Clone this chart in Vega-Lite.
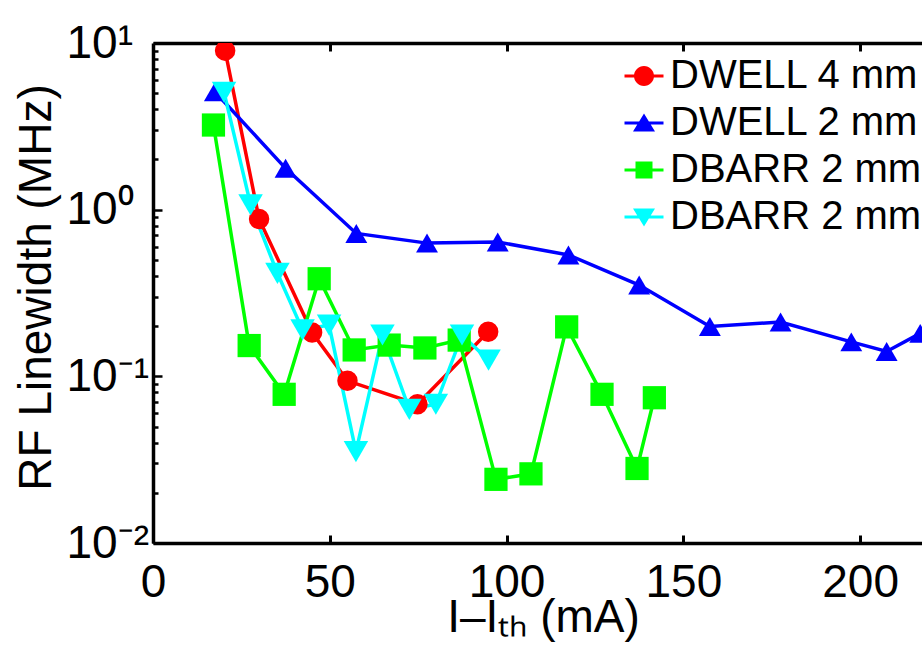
{
  "$schema": "https://vega.github.io/schema/vega-lite/v6.json",
  "width": 769,
  "height": 500,
  "autosize": {"type": "none"},
  "padding": {"left": 153, "top": 43, "right": 0, "bottom": 113},
  "background": "white",
  "config": {
    "view": {"stroke": null},
    "font": "Liberation Sans",
    "axis": {"grid": false, "domainColor": "black", "tickColor": "black", "labelColor": "black", "titleColor": "black", "labelFont": "Liberation Sans", "titleFont": "Liberation Sans", "titleFontWeight": "normal"}
  },
  "data": {
    "values": [
      {"series": "DWELL 4 mm", "x": 20.4, "y": 9.0},
      {"series": "DWELL 4 mm", "x": 30.0, "y": 0.88},
      {"series": "DWELL 4 mm", "x": 45.0, "y": 0.183},
      {"series": "DWELL 4 mm", "x": 55.0, "y": 0.094},
      {"series": "DWELL 4 mm", "x": 74.8, "y": 0.068},
      {"series": "DWELL 4 mm", "x": 94.8, "y": 0.185},
      {"series": "DWELL 2 mm", "x": 17.5, "y": 5.1},
      {"series": "DWELL 2 mm", "x": 37.5, "y": 1.77},
      {"series": "DWELL 2 mm", "x": 57.5, "y": 0.72},
      {"series": "DWELL 2 mm", "x": 77.5, "y": 0.63},
      {"series": "DWELL 2 mm", "x": 97.5, "y": 0.64},
      {"series": "DWELL 2 mm", "x": 117.5, "y": 0.535},
      {"series": "DWELL 2 mm", "x": 137.5, "y": 0.353},
      {"series": "DWELL 2 mm", "x": 157.5, "y": 0.199},
      {"series": "DWELL 2 mm", "x": 177.5, "y": 0.212},
      {"series": "DWELL 2 mm", "x": 197.5, "y": 0.161},
      {"series": "DWELL 2 mm", "x": 207.5, "y": 0.141},
      {"series": "DWELL 2 mm", "x": 217.0, "y": 0.181},
      {"series": "DBARR 2 mm", "x": 17.1, "y": 3.22},
      {"series": "DBARR 2 mm", "x": 27.2, "y": 0.153},
      {"series": "DBARR 2 mm", "x": 37.1, "y": 0.078},
      {"series": "DBARR 2 mm", "x": 47.0, "y": 0.385},
      {"series": "DBARR 2 mm", "x": 56.9, "y": 0.144},
      {"series": "DBARR 2 mm", "x": 66.8, "y": 0.154},
      {"series": "DBARR 2 mm", "x": 76.9, "y": 0.148},
      {"series": "DBARR 2 mm", "x": 86.6, "y": 0.165},
      {"series": "DBARR 2 mm", "x": 97.0, "y": 0.0241},
      {"series": "DBARR 2 mm", "x": 106.9, "y": 0.026},
      {"series": "DBARR 2 mm", "x": 117.0, "y": 0.198},
      {"series": "DBARR 2 mm", "x": 127.0, "y": 0.078},
      {"series": "DBARR 2 mm", "x": 136.9, "y": 0.028},
      {"series": "DBARR 2 mm", "x": 141.8, "y": 0.0744},
      {"series": "DBARR 2 mm ", "x": 20.1, "y": 5.06},
      {"series": "DBARR 2 mm ", "x": 27.6, "y": 1.07},
      {"series": "DBARR 2 mm ", "x": 35.2, "y": 0.415},
      {"series": "DBARR 2 mm ", "x": 42.3, "y": 0.19},
      {"series": "DBARR 2 mm ", "x": 49.8, "y": 0.203},
      {"series": "DBARR 2 mm ", "x": 57.4, "y": 0.0353},
      {"series": "DBARR 2 mm ", "x": 64.9, "y": 0.177},
      {"series": "DBARR 2 mm ", "x": 72.5, "y": 0.0634},
      {"series": "DBARR 2 mm ", "x": 80.0, "y": 0.068},
      {"series": "DBARR 2 mm ", "x": 87.4, "y": 0.177},
      {"series": "DBARR 2 mm ", "x": 94.9, "y": 0.125}
    ]
  },
  "layer": [
    {
      "mark": {"type": "line", "strokeWidth": 3.5, "clip": true},
      "encoding": {
        "x": {"field": "x", "type": "quantitative", "scale": {"domain": [0, 217.5], "nice": false, "zero": false},
          "axis": {"orient": "bottom", "values": [0, 50, 100, 150, 200], "tickSize": -8, "tickWidth": 3, "domainWidth": 3.5, "labelFontSize": 46, "labelPadding": 25, "labelFlush": false, "labelOverlap": false,
            "title": "I–Iₜₕ (mA)", "titleFontSize": 46, "titleX": 390, "titleY": 88, "titleBaseline": "alphabetic", "titleAnchor": "middle", "titleAlign": "center"}},
        "y": {"field": "y", "type": "quantitative", "scale": {"type": "log", "domain": [0.01, 10], "nice": false},
          "axis": {"orient": "left",
            "values": [0.01, 0.02, 0.03, 0.04, 0.05, 0.06, 0.07, 0.08, 0.09, 0.1, 0.2, 0.3, 0.4, 0.5, 0.6, 0.7, 0.8, 0.9, 1, 2, 3, 4, 5, 6, 7, 8, 9, 10],
            "tickSize": {"condition": {"test": "datum.value == 10 || datum.value == 1 || datum.value == 0.1 || datum.value == 0.01", "value": -9}, "value": -5},
            "tickWidth": 2.5, "domainWidth": 3.5,
            "labelExpr": "datum.value == 10 ? '10¹' : datum.value == 1 ? '10⁰' : datum.value == 0.1 ? '10⁻¹' : datum.value == 0.01 ? '10⁻²' : ''",
            "labelFontSize": 46, "labelAlign": "left", "labelBaseline": "middle", "labelPadding": 96, "labelFlush": false, "labelOverlap": false,
            "title": "RF Linewidth (MHz)", "titleFontSize": 46, "titleAngle": -90, "titleX": -103, "titleY": 244, "titleBaseline": "alphabetic", "titleAlign": "center"}},
        "color": {"field": "series", "type": "nominal", "scale": {"domain": ["DWELL 4 mm", "DWELL 2 mm", "DBARR 2 mm", "DBARR 2 mm "], "range": ["#ff0000", "#0000ff", "#00ff00", "#00ffff"]}, "legend": null}
      }
    },
    {
      "mark": {"type": "point", "filled": true, "opacity": 1, "clip": true},
      "encoding": {
        "x": {"field": "x", "type": "quantitative",
          "axis": {"orient": "top", "values": [50, 100, 150, 200], "labels": false, "tickSize": -8, "tickWidth": 3, "domainWidth": 3.5, "title": null}},
        "y": {"field": "y", "type": "quantitative", "axis": null},
        "color": {"field": "series", "type": "nominal", "scale": {"domain": ["DWELL 4 mm", "DWELL 2 mm", "DBARR 2 mm", "DBARR 2 mm "], "range": ["#ff0000", "#0000ff", "#00ff00", "#00ffff"]}, "legend": null},
        "shape": {"field": "series", "type": "nominal", "scale": {"domain": ["DWELL 4 mm", "DWELL 2 mm", "DBARR 2 mm", "DBARR 2 mm "], "range": ["circle", "triangle-up", "square", "triangle-down"]}, "legend": null},
        "size": {"field": "series", "type": "nominal", "scale": {"domain": ["DWELL 4 mm", "DWELL 2 mm", "DBARR 2 mm", "DBARR 2 mm "], "range": [420, 600, 290, 600]}, "legend": null}
      }
    },
    {
      "transform": [{"filter": "false"}],
      "mark": {"type": "point", "filled": true, "opacity": 1},
      "encoding": {
        "x": {"field": "x", "type": "quantitative", "axis": null},
        "y": {"field": "y", "type": "quantitative", "axis": null},
        "color": {"field": "series", "type": "nominal", "scale": {"domain": ["DWELL 4 mm", "DWELL 2 mm", "DBARR 2 mm", "DBARR 2 mm "], "range": ["#ff0000", "#0000ff", "#00ff00", "#00ffff"]},
          "legend": {"orient": "none", "legendX": 471, "legendY": 13, "title": null, "padding": 0, "labelFont": "Liberation Sans", "labelFontSize": 40, "labelColor": "black", "labelLimit": 500, "symbolSize": 400, "symbolStrokeWidth": 0, "rowPadding": 7, "labelOffset": 6}},
        "shape": {"field": "series", "type": "nominal", "scale": {"domain": ["DWELL 4 mm", "DWELL 2 mm", "DBARR 2 mm", "DBARR 2 mm "],
          "range": [
            "M-1.95,-0.15H1.95V0.15H-1.95Z M1,0A1,1 0 1,1 -1,0A1,1 0 1,1 1,0Z",
            "M-1.95,-0.15H1.95V0.15H-1.95Z M0,-0.95L1.1,0.85H-1.1Z",
            "M-1.95,-0.15H1.95V0.15H-1.95Z M-0.85,-0.85H0.85V0.85H-0.85Z",
            "M-1.95,-0.15H1.95V0.15H-1.95Z M-1.1,-0.85H1.1L0,0.95Z"
          ]},
          "legend": {"orient": "none", "legendX": 471, "legendY": 13, "title": null, "padding": 0, "labelFont": "Liberation Sans", "labelFontSize": 40, "labelColor": "black", "labelLimit": 500, "symbolSize": 400, "symbolStrokeWidth": 0, "rowPadding": 7, "labelOffset": 6}}
      }
    }
  ],
  "resolve": {"scale": {"color": "independent", "shape": "independent", "size": "independent"}, "axis": {"x": "independent", "y": "independent"}}
}
